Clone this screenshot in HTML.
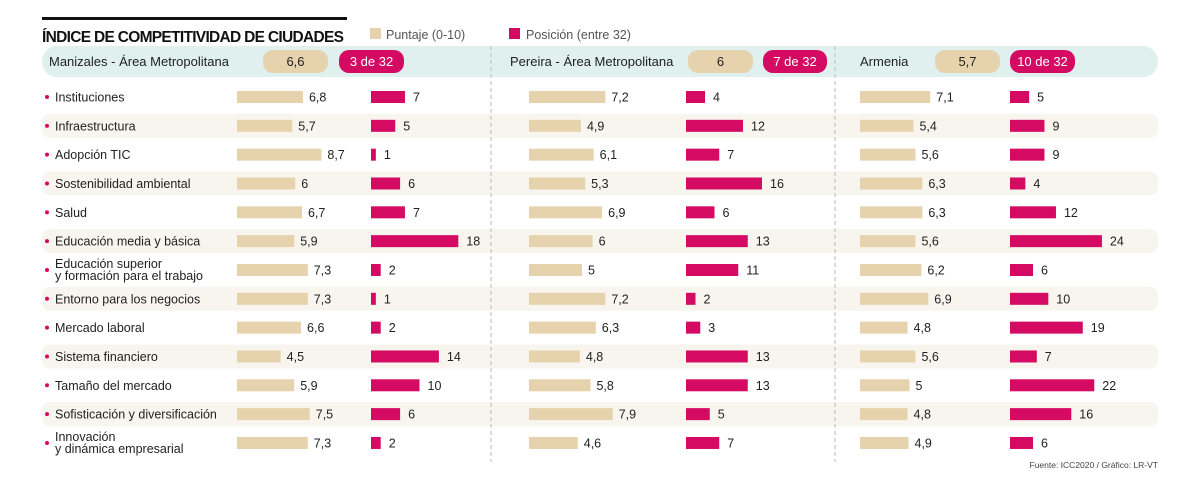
<!DOCTYPE html>
<html><head><meta charset="utf-8"><style>
body{margin:0;background:#fff;}
svg{display:block;font-family:"Liberation Sans",sans-serif;}
</style></head><body>
<svg id="c" width="1200" height="484" viewBox="0 0 1200 484">
<rect x="42" y="17" width="305" height="3" fill="#111"/>
<text x="42" y="42" font-size="15.5" font-weight="bold" fill="#111" textLength="302">ÍNDICE DE COMPETITIVIDAD DE CIUDADES</text>
<rect x="370" y="28" width="11" height="11" fill="#e6d3ad"/>
<text x="386" y="39" font-size="12.5" fill="#555">Puntaje (0-10)</text>
<rect x="509" y="28" width="11" height="11" fill="#d40a63"/>
<text x="526" y="39" font-size="12.5" fill="#555">Posición (entre 32)</text>
<rect x="42" y="46" width="1116" height="31" rx="15" fill="#dff0ef"/>
<g id="rows"></g>
<line x1="491" y1="46" x2="491" y2="462" stroke="#bbb" stroke-dasharray="4,3"/>
<line x1="835" y1="46" x2="835" y2="462" stroke="#bbb" stroke-dasharray="4,3"/>
<g id="marks"></g>
<text x="1158" y="468" font-size="8.5" fill="#444" text-anchor="end">Fuente: ICC2020  / Gráfico: LR-VT</text>
</svg>
<script>
const categories=["Instituciones","Infraestructura","Adopción TIC","Sostenibilidad ambiental","Salud","Educación media y básica","Educación superior|y formación para el trabajo","Entorno para los negocios","Mercado laboral","Sistema financiero","Tamaño del mercado","Sofisticación y diversificación","Innovación|y dinámica empresarial"];
const cities=["Manizales - Área Metropolitana","Pereira - Área Metropolitana","Armenia"];
const totalScores=["6,6","6","5,7"];
const totalPositions=["3 de 32","7 de 32","10 de 32"];
const manizalesScore=[6.8,5.7,8.7,6,6.7,5.9,7.3,7.3,6.6,4.5,5.9,7.5,7.3];
const manizalesPos=[7,5,1,6,7,18,2,1,2,14,10,6,2];
const pereiraScore=[7.2,4.9,6.1,5.3,6.9,6,5,7.2,6.3,4.8,5.8,7.9,4.6];
const pereiraPos=[4,12,7,16,6,13,11,2,3,13,13,5,7];
const armeniaScore=[7.1,5.4,5.6,6.3,6.3,5.6,6.2,6.9,4.8,5.6,5,4.8,4.9];
const armeniaPos=[5,9,9,4,12,24,6,10,19,7,22,16,6];

const NS="http://www.w3.org/2000/svg";
function mk(tag,attrs,parent,txt){const e=document.createElementNS(NS,tag);for(const k in attrs)e.setAttribute(k,attrs[k]);if(txt!==undefined)e.textContent=txt;parent.appendChild(e);return e;}
const rowsG=document.getElementById('rows'),marksG=document.getElementById('marks');
const rowY=i=>97+i*28.83;
const fmt=v=>String(v).replace('.',',');
const cols=[
 {score:manizalesScore,pos:manizalesPos,sx:237,su:9.7,px:371,pu:4.85,name:'manizales',title:49,sp:263,pp:339,pw:65},
 {score:pereiraScore,pos:pereiraPos,sx:529,su:10.6,px:686,pu:4.75,name:'pereira',title:510,sp:688,pp:763,pw:64},
 {score:armeniaScore,pos:armeniaPos,sx:860,su:9.9,px:1010,pu:3.83,name:'armenia',title:860,sp:935,pp:1010,pw:65}
];
categories.forEach((c,i)=>{
  const y=rowY(i);
  if(i%2===1){const r=mk('rect',{x:42,y:y-12,width:1116,height:24,rx:8,fill:'#f8f5ef'},rowsG);
    
    }
  const d=mk('circle',{cx:47,cy:y,r:2,fill:'#d40a63'},rowsG);
  
  
  const parts=c.split('|');
  if(parts.length===1){const t=mk('text',{x:55,y:y+4.5,'font-size':12.5,fill:'#222'},rowsG,c);
    
    }
  else{const t=mk('text',{x:55,y:y-2,'font-size':12.5,fill:'#222'},rowsG);
    
    
    mk('tspan',{x:55},t,parts[0]);mk('tspan',{x:55,dy:12},t,parts[1]);}
});
cols.forEach((col,ci)=>{
  const t=mk('text',{x:col.title,y:66,'font-size':13,fill:'#222'},marksG,cities[ci]);
  
  
  const p1=mk('rect',{x:col.sp,y:50,width:65,height:23,rx:10,fill:'#e6d3ad'},marksG);
  
  
  const t1=mk('text',{x:col.sp+32.5,y:66,'font-size':13,fill:'#222','text-anchor':'middle'},marksG,totalScores[ci]);
  
  
  const p2=mk('rect',{x:col.pp,y:50,width:col.pw,height:23,rx:10,fill:'#d40a63'},marksG);
  
  
  const t2=mk('text',{x:col.pp+col.pw/2,y:66,'font-size':13,fill:'#fff','text-anchor':'middle'},marksG,totalPositions[ci]);
  
  
  categories.forEach((c,i)=>{
    const y=rowY(i);const w=col.score[i]*col.su;
    const b=mk('rect',{x:col.sx,y:y-6,width:w,height:12,fill:'#e6d3ad'},marksG);
    
    
    const l=mk('text',{x:col.sx+w+6,y:y+4.5,'font-size':12.5,fill:'#222'},marksG,fmt(col.score[i]));
    
    
    const pw=col.pos[i]*col.pu;
    const pb=mk('rect',{x:col.px,y:y-6,width:pw,height:12,fill:'#d40a63'},marksG);
    
    
    const pl=mk('text',{x:col.px+pw+8,y:y+4.5,'font-size':12.5,fill:'#222'},marksG,fmt(col.pos[i]));
    
    
  });
});
</script>
</body></html>
